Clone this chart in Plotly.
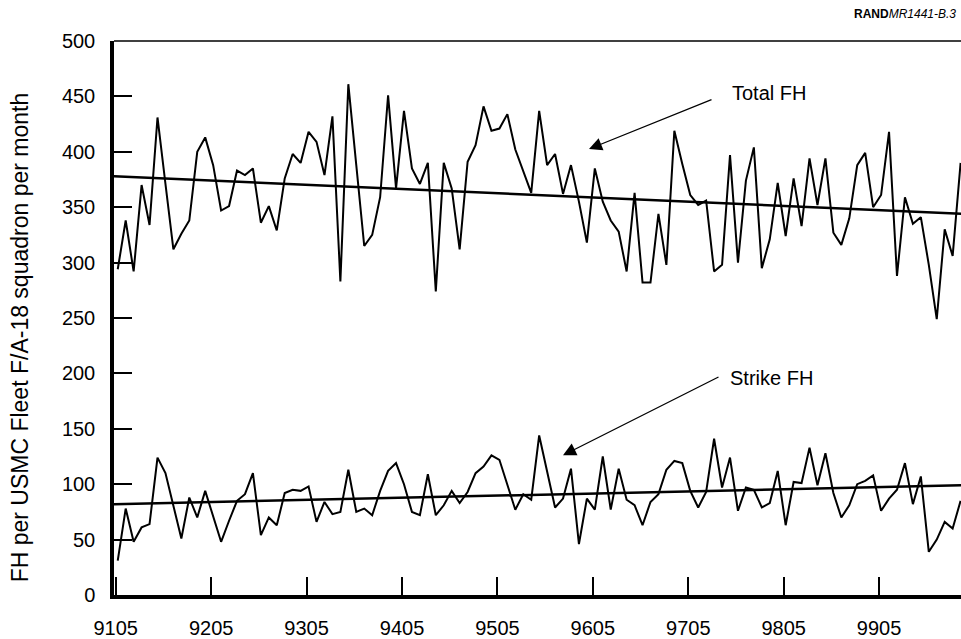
import plotly.graph_objects as go

# Month labels (YYMM), first month 9105
start_year, start_month = 1991, 5
n_months = 107
months = []
for k in range(n_months):
    m = start_month - 1 + k
    y = start_year + m // 12
    mm = m % 12 + 1
    months.append(f"{y % 100:02d}{mm:02d}")
month_index = list(range(n_months))

total_fh = [294, 338, 292, 370, 334, 431, 371, 312, 326, 338,
            400, 413, 388, 347, 351, 383, 379, 385, 336, 351,
            329, 376, 398, 390, 418, 409, 379, 432, 283, 461,
            388, 315, 325, 359, 451, 367, 437, 385, 371, 390,
            274, 390, 367, 312, 391, 406, 441, 419, 421, 434,
            402, 382, 363, 437, 388, 398, 362, 388, 355, 318,
            385, 355, 338, 328, 292, 363, 282, 282, 344, 298,
            419, 389, 361, 352, 356, 292, 298, 397, 300, 374,
            404, 295, 321, 372, 324, 376, 333, 394, 352, 394,
            327, 316, 340, 388, 399, 350, 361, 418, 288, 359,
            335, 341, 298, 249, 330, 306, 390]

strike_fh = [31, 78, 48, 61, 64, 124, 110, 81, 51, 88,
             70, 94, 71, 48, 67, 85, 91, 110, 54, 70,
             63, 92, 95, 94, 98, 66, 84, 73, 75, 113,
             75, 78, 72, 94, 112, 119, 100, 75, 72, 109,
             72, 81, 94, 83, 93, 110, 116, 126, 122, 100,
             77, 91, 86, 144, 110, 79, 87, 114, 46, 87,
             77, 125, 77, 114, 86, 81, 63, 84, 91, 113,
             121, 119, 94, 79, 93, 141, 97, 124, 76, 97,
             95, 79, 83, 112, 63, 102, 101, 133, 99, 128,
             92, 70, 81, 100, 103, 108, 76, 87, 95, 119,
             82, 107, 39, 50, 66, 60, 85]

# Trend lines (end points)
trend_x = [-0.5, 106.1]
trend_total = [378, 344]
trend_strike = [82, 99]

tick_idx = list(range(0, 97, 12))
tick_labels = [months[i] for i in tick_idx]
y_ticks = list(range(0, 501, 50))

FONT = "Liberation Sans, Arial, Helvetica, sans-serif"

fig = go.Figure()
line_style = dict(color="black", width=2)
fig.add_trace(go.Scatter(x=month_index, y=total_fh, mode="lines", line=line_style, name="Total FH"))
fig.add_trace(go.Scatter(x=month_index, y=strike_fh, mode="lines", line=line_style, name="Strike FH"))
fig.add_trace(go.Scatter(x=trend_x, y=trend_total, mode="lines", line=dict(color="black", width=2.5)))
fig.add_trace(go.Scatter(x=trend_x, y=trend_strike, mode="lines", line=dict(color="black", width=2.5)))

fig.update_layout(
    width=961, height=639,
    margin=dict(l=114, r=0, t=41, b=39),
    paper_bgcolor="white", plot_bgcolor="white",
    showlegend=False,
    font=dict(family=FONT, color="black", size=20),
)
fig.update_xaxes(
    range=[-0.47, 106.05],
    tickmode="array", tickvals=[i - 0.25 for i in tick_idx], ticktext=tick_labels,
    ticks="inside", ticklen=18, tickwidth=1.5, tickcolor="black",
    showline=True, linewidth=3.5, linecolor="black",
    showgrid=False, zeroline=False,
    tickfont=dict(size=20, family=FONT),
    ticklabelstandoff=12,
)
fig.update_yaxes(
    range=[0, 500],
    tickmode="array", tickvals=y_ticks,
    ticks="inside", ticklen=18, tickwidth=1.5, tickcolor="black",
    showline=True, linewidth=3.5, linecolor="black",
    showgrid=False, zeroline=False,
    tickfont=dict(size=20, family=FONT),
    ticklabelstandoff=11,
)
# top border
fig.add_shape(type="line", xref="paper", yref="paper", x0=0, x1=1, y0=1, y1=1,
              line=dict(color="black", width=1.5))

# Y-axis title
fig.add_annotation(text="FH per USMC Fleet F/A-18 squadron per month",
                   xref="paper", yref="paper", x=-0.111, y=0.465,
                   textangle=-90, showarrow=False, font=dict(size=23, family=FONT),
                   xanchor="center", yanchor="middle")

# Series labels
fig.add_annotation(text="Total FH", xref="paper", yref="paper",
                   x=(730 - 114) / 847, y=(600 - 93) / 559,
                   xanchor="left", yanchor="middle", showarrow=False,
                   font=dict(size=20, family=FONT))
fig.add_annotation(text="Strike FH", xref="paper", yref="paper",
                   x=(728 - 114) / 847, y=(600 - 381) / 559,
                   xanchor="left", yanchor="middle", showarrow=False,
                   font=dict(size=20, family=FONT))
# Arrows
fig.add_annotation(text="", xref="paper", yref="paper",
                   x=(589 - 114) / 847, y=(600 - 150) / 559, ax=124, ay=-50,
                   showarrow=True, arrowhead=2, arrowsize=2, arrowwidth=1.3, arrowcolor="black")
fig.add_annotation(text="", xref="paper", yref="paper",
                   x=(563 - 114) / 847, y=(600 - 459) / 559, ax=157, ay=-79,
                   showarrow=True, arrowhead=2, arrowsize=2, arrowwidth=1.3, arrowcolor="black")

# Source tag
fig.add_annotation(text="<b>RAND</b><i>MR1441-B.3</i>", xref="paper", yref="paper",
                   x=(958 - 114) / 847, y=(600 - 14) / 559,
                   xanchor="right", yanchor="middle", showarrow=False,
                   font=dict(size=12, family=FONT))

fig.write_html("out.html",
               config={"displayModeBar": False},
               post_script="document.body.style.margin='0';document.body.style.padding='0';document.body.style.overflow='hidden';")
